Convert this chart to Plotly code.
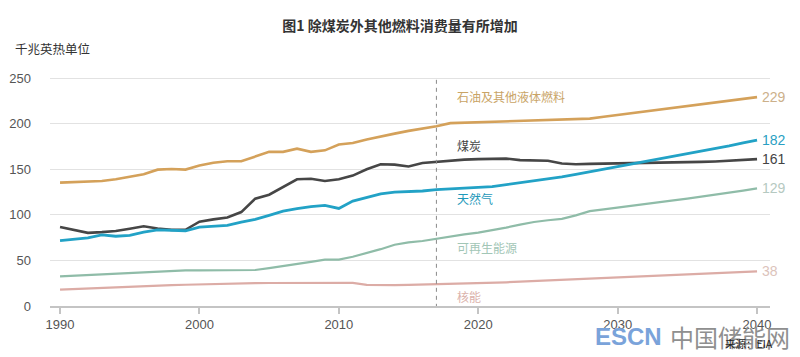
import plotly.graph_objects as go

years = list(range(1990, 2041))

oil = [135.3, 135.6, 136, 137, 139, 141.5, 144.5, 149.5, 150.3, 149.6,
       154, 157, 158.7, 158.7, 164, 169, 169, 172.5, 169, 170.7,
       177, 178.7, 182.5, 186, 189, 192, 194.5, 197, 200.5, 201,
       201.2, 201.6, 202, 202.5, 203, 203.5, 204, 204.6, 205.5, 207.5,
       209.5, 211.5, 213.5, 215.5, 217.5, 219.5, 221.5, 223.5, 225.5, 227.3,
       229]
coal = [86.6, 83, 80.2, 81, 82.3, 84.8, 87.4, 85, 83.5, 83.6,
        92.5, 95, 97, 103, 117.7, 122, 130.5, 139, 139.6, 137,
        139, 143, 150, 155.4, 155, 153, 156.8, 157.9, 159.8, 160.5,
        161, 161.2, 161.6, 160, 159.2, 159.2, 156.2, 155.5, 155.8, 156,
        156.2, 156.5, 156.8, 157, 157.3, 157.6, 158, 158.5, 159.2, 160,
        161]
gas = [71.8, 72.8, 74.6, 78, 76.5, 77.5, 81, 83.5, 83, 82.5,
       86.5, 87.4, 88.5, 92, 95, 99.4, 104, 106.7, 109, 110.4,
       107, 115, 119, 123, 124.8, 125.4, 126.1, 127.6, 128.2, 128.9,
       130, 131, 133, 135.5, 137.6, 139.6, 141.5, 144.2, 147, 150.4,
       153.3, 156, 158.8, 161.5, 164.2, 166.8, 169.5, 172.3, 175.5, 178.8,
       182]
renew = [32.5, 33.3, 34.1, 34.9, 35.7, 36.5, 37.3, 38.1, 38.9, 39.1,
         39.1, 39.1, 39.1, 39.1, 39.5, 41.5, 43.6, 45.7, 48.3, 50.8,
         50.8, 54, 58.1, 62.3, 67.2, 69.8, 71.3, 73.8, 76.4, 78.6,
         80.5, 83, 85.9, 89.3, 92.1, 94, 95.6, 99.4, 104, 106,
         107.8, 109.8, 111.8, 113.8, 115.8, 117.8, 119.8, 121.8, 124, 126.5,
         129]
nuclear = [18, 18.7, 19.4, 20, 20.6, 21.2, 21.8, 22.3, 22.8, 23.3,
           23.8, 24.2, 24.6, 24.8, 25, 25.2, 25.3, 25.4, 25.5, 25.5,
           25.7, 25.3, 23.2, 22.6, 22.8, 23.2, 23.6, 24, 24.2, 24.4,
           24.6, 25.3, 26, 26.7, 27.4, 28.1, 28.8, 29.5, 30.2, 30.9,
           31.5, 32.1, 32.7, 33.3, 33.9, 34.5, 35.1, 35.8, 36.5, 37.2,
           38]

series_names = ["石油及其他液体燃料", "煤炭", "天然气", "可再生能源", "核能"]
series_values = [oil, coal, gas, renew, nuclear]
end_labels = ["229", "182", "161", "129", "38"]
end_label_series = [oil, gas, coal, renew, nuclear]
x_ticks = [1990, 2000, 2010, 2020, 2030, 2040]
y_ticks = [0, 50, 100, 150, 200, 250]
forecast_start = 2017

line_colors = ["#d4a15a", "#464646", "#22a2c6", "#8fbca8", "#dcaca6"]
line_widths = [2.6, 2.6, 2.8, 2.2, 2.2]
name_colors = ["#c9a466", "#444444", "#1f99ba", "#a2c6b6", "#dbb2ab"]
name_y = [229.5, 175.5, 118, 64.7, 10.2]
end_colors = ["#ccb08a", "#2a9fc3", "#444444", "#b5c9c1", "#dcc3bb"]

FONT = "Liberation Sans, Arial, Noto Sans CJK SC, sans-serif"
CJK = "Noto Sans CJK SC, Liberation Sans, sans-serif"

# page body has an 8px default margin, so the figure is 8px smaller each way
W, H = 792, 349

fig = go.Figure()
for name, vals, col, w in zip(series_names, series_values, line_colors, line_widths):
    fig.add_trace(go.Scatter(x=years, y=vals, mode="lines", name=name,
                             line=dict(color=col, width=w), hoverinfo="skip"))

annotations = []
for name, col, yv in zip(series_names, name_colors, name_y):
    annotations.append(dict(x=2018.3, y=yv, xref="x", yref="y", text=name,
                            showarrow=False, xanchor="left", yanchor="middle",
                            font=dict(family=CJK, size=12, color=col)))
for lab, vals, col in zip(end_labels, end_label_series, end_colors):
    annotations.append(dict(x=years[-1], y=vals[-1], xref="x", yref="y", text=lab,
                            showarrow=False, xanchor="left", yanchor="middle", xshift=3,
                            font=dict(family=FONT, size=14, color=col)))
annotations.append(dict(x=2001.2, y=265.4, xref="x", yref="y", text="历史", showarrow=False,
                        xanchor="center", yanchor="middle",
                        font=dict(family=CJK, size=12.5, color="#333333")))
annotations.append(dict(x=2028.3, y=265.4, xref="x", yref="y", text="预测", showarrow=False,
                        xanchor="center", yanchor="middle",
                        font=dict(family=CJK, size=12.5, color="#333333")))
annotations.append(dict(x=-0.0518, y=1.1204, xref="paper", yref="paper", text="千兆英热单位",
                        showarrow=False, xanchor="left", yanchor="middle",
                        font=dict(family=CJK, size=12.5, color="#333333")))
annotations.append(dict(x=0.8035, y=-0.133, xref="paper", yref="paper", text="<b>ESCN</b>",
                        showarrow=False, xanchor="center", yanchor="middle",
                        font=dict(family=FONT, size=24, color="#7aa3da")))
annotations.append(dict(x=0.944, y=-0.133, xref="paper", yref="paper", text="中国储能网",
                        showarrow=False, xanchor="center", yanchor="middle",
                        font=dict(family=CJK, size=24, color="#8f8f8f")))
annotations.append(dict(x=0.9715, y=-0.161, xref="paper", yref="paper", text="来源：EIA",
                        showarrow=False, xanchor="center", yanchor="middle",
                        font=dict(family=CJK, size=10.5, color="#222222")))

shapes = [
    dict(type="line", xref="x", yref="y", x0=forecast_start, x1=forecast_start,
         y0=-2, y1=250, line=dict(color="#8a8a8a", width=1, dash="4px,4px")),
    dict(type="line", xref="paper", yref="paper", x0=1.0375, x1=1.0375,
         y0=-0.222, y1=1.331, line=dict(color="#555555", width=1.5)),
]

fig.update_layout(
    width=W, height=H,
    margin=dict(l=42, r=30, t=68, b=51, autoexpand=False),
    paper_bgcolor="white", plot_bgcolor="white",
    showlegend=False,
    title=dict(text="<b>图1 除煤炭外其他燃料消费量有所增加</b>", x=392 / W, xref="container",
               xanchor="center", y=1 - 18 / H, yref="container", yanchor="middle",
               font=dict(family=CJK, size=14, color="#333333")),
    xaxis=dict(range=[1989.28, 2040.93], tickvals=x_ticks,
               ticktext=[str(v) for v in x_ticks], automargin=False,
               showgrid=False, zeroline=False, showline=True, linecolor="#c4c4c4", linewidth=1.5,
               ticks="outside", ticklen=6, tickcolor="#c4c4c4", tickwidth=1.5,
               tickfont=dict(family=FONT, size=13, color="#555555")),
    yaxis=dict(range=[0, 252.2], tickvals=y_ticks, showgrid=True, gridcolor="#e2e2e2",
               gridwidth=1, zeroline=False, showline=False, ticks="", automargin=False,
               ticklabelstandoff=18,
               tickfont=dict(family=FONT, size=13, color="#555555")),
    annotations=annotations,
    shapes=shapes,
)

fig.write_html("out.html")
